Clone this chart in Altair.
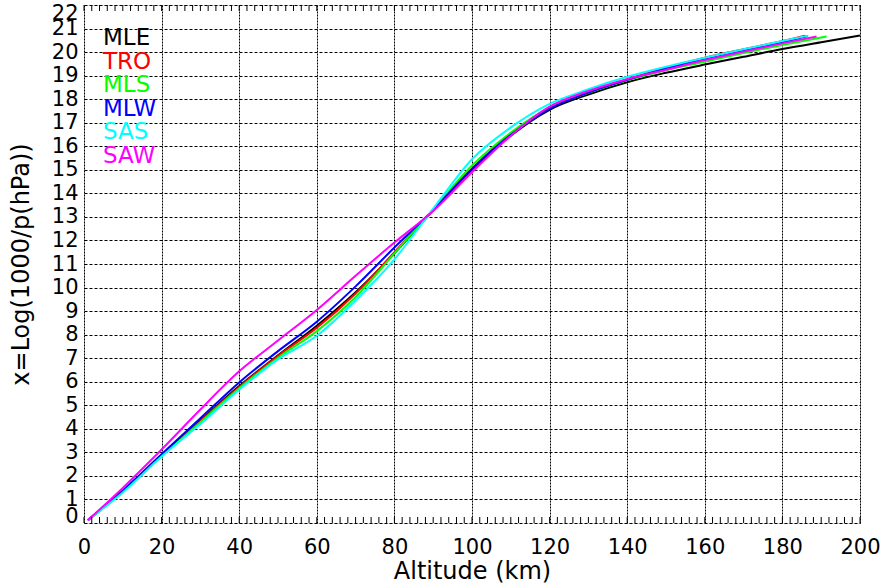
import altair as alt
import pandas as pd

# Altitude grid (km) shared by all profiles
altitudes = [1, 10, 20, 30, 40, 50, 60, 70, 80, 90, 100, 110, 120, 130, 140, 150, 160, 170, 180]

# x = ln(1000/p) values, one list per model atmosphere
mle = [0.12, 1.36, 2.88, 4.36, 5.82, 7.12, 8.38, 9.80, 11.45, 13.28, 15.00, 16.45, 17.55, 18.20, 18.72, 19.12, 19.47, 19.80, 20.13]
tro = [0.12, 1.33, 2.85, 4.32, 5.78, 7.10, 8.29, 9.75, 11.50, 13.30, 15.06, 16.52, 17.62, 18.30, 18.85, 19.33, 19.76, 20.12, 20.47]
mls = [0.12, 1.32, 2.84, 4.28, 5.72, 7.02, 8.15, 9.60, 11.45, 13.32, 15.18, 16.58, 17.65, 18.27, 18.80, 19.23, 19.59, 19.96, 20.30]
mlw = [0.12, 1.38, 2.92, 4.45, 5.97, 7.30, 8.55, 10.05, 11.70, 13.30, 15.04, 16.48, 17.60, 18.28, 18.82, 19.30, 19.72, 20.08, 20.42]
sas = [0.12, 1.30, 2.82, 4.20, 5.66, 6.95, 7.95, 9.45, 11.20, 13.35, 15.45, 16.80, 17.80, 18.42, 18.95, 19.38, 19.76, 20.12, 20.47]
saw = [0.12, 1.49, 3.12, 4.82, 6.44, 7.75, 9.05, 10.50, 11.91, 13.25, 14.90, 16.45, 17.68, 18.35, 18.85, 19.25, 19.66, 20.02, 20.37]

# Extra top-end points (altitude, value) for each profile
mle_tail = [(190, 20.42), (200, 20.70)]
tro_tail = [(185.8, 20.70)]
mls_tail = [(191.4, 20.66)]
mlw_tail = [(186.5, 20.68)]
sas_tail = [(186.7, 20.70)]
saw_tail = [(188.8, 20.66)]

names = ["MLE", "TRO", "MLS", "MLW", "SAS", "SAW"]
colors = ["#000000", "#ff0000", "#00ff00", "#0000ff", "#00ffff", "#ff00ff"]
series = [mle, tro, mls, mlw, sas, saw]
tails = [mle_tail, tro_tail, mls_tail, mlw_tail, sas_tail, saw_tail]

# Label positions (in data units) for the colored legend text
label_alt = 4.9
label_vals = [20.6, 19.6, 18.6, 17.6, 16.6, 15.6]

x_ticks = list(range(0, 201, 20))
y_ticks = list(range(0, 23))
minor_ticks = list(range(0, 201, 2))

rows = []
for i, (n, vals, tail) in enumerate(zip(names, series, tails)):
    for a, v in zip(altitudes, vals):
        rows.append({"model": n, "order": i, "alt": a, "x": v})
    for a, v in tail:
        rows.append({"model": n, "order": i, "alt": a, "x": v})
df = pd.DataFrame(rows)

lab = pd.DataFrame({"model": names, "alt": [label_alt] * 6, "x": label_vals})
mt = pd.DataFrame({"alt": minor_ticks})

FONT = "DejaVu Sans"
xscale = alt.Scale(domain=[0, 200], nice=False, zero=False)
yscale = alt.Scale(domain=[0, 22], nice=False, zero=False)
cscale = alt.Scale(domain=names, range=colors)

x_axis = alt.Axis(title="Altitude (km)", values=x_ticks, grid=True,
                  gridDash=[2, 1], gridColor="black", gridOpacity=1, gridWidth=1,
                  tickSize=0, labelPadding=13, labelFontSize=21, labelFont=FONT,
                  labelColor="black", titleFontSize=24, titleFont=FONT,
                  titleFontWeight="normal", titleColor="black", titlePadding=2,
                  domain=False, labelFlush=False, labelOverlap=False)
y_axis = alt.Axis(title="x=Log(1000/p(hPa))", values=y_ticks, tickCount=23, grid=True,
                  gridDash=[3, 2], gridColor="black", gridOpacity=1, gridWidth=1,
                  tickSize=0, labelPadding=6, labelFontSize=21, labelFont=FONT,
                  labelColor="black", titleFontSize=24, titleFont=FONT,
                  titleFontWeight="normal", titleColor="black", titlePadding=18,
                  domain=False, labelFlush=True, labelFlushOffset=3, labelOverlap=False)

lines = alt.Chart(df).mark_line(strokeWidth=2, interpolate="monotone").encode(
    x=alt.X("alt:Q", scale=xscale, axis=x_axis),
    y=alt.Y("x:Q", scale=yscale, axis=y_axis),
    color=alt.Color("model:N", scale=cscale, legend=None),
    detail="model:N",
    order="order:Q",
)

labels = alt.Chart(lab).mark_text(align="left", baseline="middle", fontSize=23, font=FONT).encode(
    x=alt.X("alt:Q", scale=xscale, axis=x_axis),
    y=alt.Y("x:Q", scale=yscale, axis=y_axis),
    text="model:N",
    color=alt.Color("model:N", scale=cscale, legend=None),
)

ticks_bottom = alt.Chart(mt).mark_rule(color="black", strokeWidth=1).encode(
    x=alt.X("alt:Q", scale=xscale, axis=x_axis),
    y=alt.value(518),
    y2=alt.value(512),
)
ticks_top = alt.Chart(mt).mark_rule(color="black", strokeWidth=1).encode(
    x=alt.X("alt:Q", scale=xscale, axis=x_axis),
    y=alt.value(0),
    y2=alt.value(6),
)

chart = alt.layer(lines, ticks_bottom, ticks_top, labels).properties(
    width=776, height=518,
    autosize=alt.AutoSizeParams(type="none"),
    padding={"left": 84, "top": 5, "right": 24, "bottom": 64},
).configure_view(stroke="black", strokeWidth=1.5).configure(background="white")

chart.save("out.html", embed_options={"renderer": "svg", "actions": False})
